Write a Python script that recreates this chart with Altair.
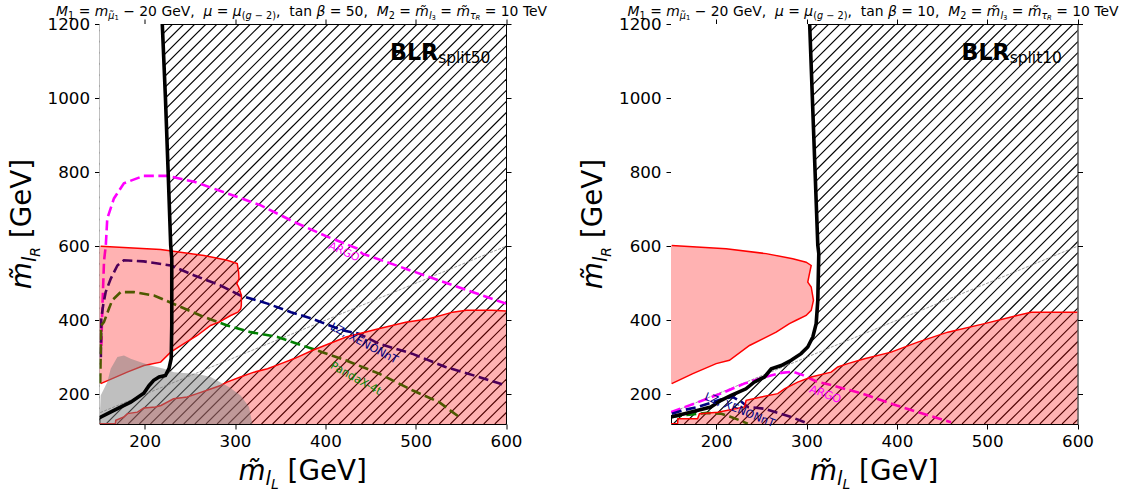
import altair as alt
import pandas as pd

FONT = "DejaVu Sans"
X_DOMAIN = [150, 600]
Y_DOMAIN = [120, 1200]
W, H = 406.5, 400.0
X_TICKS = [200, 300, 400, 500, 600]
Y_TICKS = [200, 400, 600, 800, 1000, 1200]

# ------------------------------------------------------------------ left panel (tan beta = 50)
L_black_x = [150, 166, 184.5, 199, 205, 210, 216, 223, 227, 229.4, 230, 230, 228.8, 226, 223, 219.5]
L_black_y = [137, 157, 179, 203, 224, 238, 247, 251, 270, 297, 386, 567, 603, 800, 1000, 1200]

L_pink1_x = [151.3, 180.7, 199.2, 217.7, 228.8, 243.5, 258.2, 273, 282.3, 295.2, 303.3, 306.3, 307, 307.1,
             304, 302, 304.4, 304, 302.5, 291.4, 265.6, 217.7, 151.3]
L_pink1_y = [229, 260, 278, 287, 314, 337, 359, 386, 395, 413, 422, 431, 440, 467,
             490, 499, 512, 530, 553, 562, 575, 591, 600]

L_pink2_x = [150, 167.6, 168, 177, 181, 192, 199, 212, 218, 232, 247, 258, 269, 284, 291, 306, 321,
             336, 351, 365, 386, 423, 459, 489, 515, 541, 556, 585, 600]
L_pink2_y = [121, 121, 130, 139, 148, 152, 163, 166, 170, 188, 193, 202, 211, 224, 233, 247, 260,
             269, 283, 296, 319, 355, 377, 395, 404, 422, 427, 427, 425]

L_grey_x = [150, 151.3, 158.6, 162.4, 169.8, 177.1, 184.5, 195.6, 206.6, 221.4, 232.4, 254.6, 260,
            273, 293.3, 306.3, 315.5, 319.2]
L_grey_y = [120, 197, 233, 269, 301, 305, 296, 287, 278, 269, 260, 256, 254,
            247, 220, 197, 166, 120]

L_argo_x = [152, 153, 155, 157, 158.6, 166, 177, 199, 225, 255, 291, 328, 365, 402, 435, 441, 515, 600]
L_argo_y = [330, 420, 560, 603, 675, 729, 770, 790, 790, 774, 743, 711, 666, 626, 594, 580, 517, 445]

L_xen_x = [151.5, 152, 154, 156.8, 162.4, 169.8, 177, 199, 229, 255, 284, 306, 336, 362, 385.5, 419,
           437, 459, 496, 533, 570, 600]
L_xen_y = [300, 404, 440, 476, 512, 548, 562, 559, 548, 521, 494, 467, 445, 422, 404, 373,
           364, 337, 310, 274, 247, 224]

L_pandax_x = [150.8, 151.8, 154.9, 160.4, 164.1, 173.4, 188.2, 210.3, 236.1, 265.6, 291.4, 317.3, 347,
              385.5, 422.5, 459.4, 496.3, 526, 548]
L_pandax_y = [230, 386, 395, 431, 454, 476, 476, 467, 440, 409, 386, 368, 355,
              323, 292, 256, 211, 179, 139]

L_label_text = ["ARGO", "LZ, XENONnT", "PandaX-4t"]
L_label_x = [420.5, 442.7, 433.5]
L_label_y = [584, 336.7, 242]
L_label_angle = [24, 28, 29]
L_label_color = ["magenta", "navy", "green"]

# ------------------------------------------------------------------ right panel (tan beta = 10)
R_black_x = [150, 165, 180, 194, 205.5, 216.6, 233, 242, 253.5, 261, 272, 283, 294, 301.4, 307, 310.7,
             312.5, 313.6, 312.5, 308, 303.5]
R_black_y = [139, 148, 157, 166, 184, 197, 215, 233, 247, 269, 278, 292, 310, 328, 355, 391,
             454, 580, 603, 900, 1200]

R_pink1_x = [150.8, 174.2, 200, 214.7, 236.9, 251.6, 266.4, 281.1, 288.6, 299.6, 305.2, 307.7, 305.2,
             301.4, 303.3, 305.2, 299.6, 284.8, 255.3, 211, 150.8]
R_pink1_y = [229, 256, 283, 292, 332, 350, 368, 391, 400, 413, 427, 454, 490,
             503, 526, 548, 557, 566, 580, 593, 602]

R_pink2_x = [150, 157.3, 157.6, 179.4, 181.5, 201.8, 231.3, 233.2, 249.8, 268.2, 275.6, 290.3, 305.2,
             327.3, 334.6, 345.7, 364.2, 393.7, 423.2, 456.4, 497.1, 526.6, 548.7, 600]
R_pink2_y = [121, 121, 134, 134, 148, 152, 166, 184, 193, 202, 215, 233, 247,
             260, 274, 283, 296, 314, 341, 368, 391, 409, 422, 422]

R_argo_x = [150, 180, 209, 231, 254, 272, 285, 296, 311, 329, 362, 400, 435, 460]
R_argo_y = [152, 179, 206, 229, 247, 258, 261, 252, 235, 224, 202, 170, 143, 125]

R_xen_x = [151, 165, 180, 195, 205, 211, 218, 222, 228, 235, 254, 283, 302]
R_xen_y = [148, 158, 166, 178, 186, 189, 193, 188, 180, 166, 161, 139, 121]

R_pandax_x = [151, 170, 190, 205, 215, 225, 235]
R_pandax_y = [140, 145, 150, 148, 140, 131, 121]

R_label_text = ["ARGO", "LZ, XENONnT"]
R_label_x = [320.7, 225.8]
R_label_y = [199, 156.5]
R_label_angle = [20, 22]
R_label_color = ["magenta", "navy"]

DIAG = [120, 600]  # m_lL = m_lR reference line

# ------------------------------------------------------------------ styling constants
HATCH_PX = 11.11        # horizontal spacing of hatch lines in pixels
HATCH_PHASE = [0.0, 4.3]  # px offset from the top-right corner

XS = alt.Scale(domain=X_DOMAIN, nice=False, zero=False)
YS = alt.Scale(domain=Y_DOMAIN, nice=False, zero=False)
PX = alt.Scale(domain=[0, W], nice=False, zero=False)
PY = alt.Scale(domain=[0, H], nice=False, zero=False, reverse=True)

WID = {' ': 0.318, '=': 0.838, '\u2212': 0.838, ',': 0.318, '(': 0.390, ')': 0.390, '[': 0.390, ']': 0.390,
       '-': 0.361, 'G': 0.775, 'e': 0.615, 'V': 0.684, 'T': 0.611, 'a': 0.613, 'n': 0.634, 't': 0.392,
       'M': 0.863, 'm': 0.974, 'g': 0.635, 'l': 0.278, 'R': 0.695, 'L': 0.557, 'B': 0.686, 's': 0.521,
       'p': 0.635, 'i': 0.278, '\u03bc': 0.636, '\u03b2': 0.636, '\u03c4': 0.578, '\u0303': 0.0}
for _d in '0123456789':
    WID[_d] = 0.636
WID_BOLD = {'B': 0.762, 'L': 0.637, 'R': 0.770}


def tw(s, size, bold=False):
    tot = 0.0
    for ch in s:
        if bold and ch in WID_BOLD:
            tot += WID_BOLD[ch]
        else:
            tot += WID.get(ch, 0.62)
    return tot * size


def layout_runs(runs, x0, y0, align='center', vertical=False):
    total = sum(tw(t, sz, wt == 'bold') for t, sz, sh, st, wt in runs)
    cur = -total / 2 if align == 'center' else 0.0
    rows = []
    for t, sz, sh, st, wt in runs:
        tok, tok_pos = '', cur
        for ch in t:
            if ch == ' ':
                if tok:
                    rows.append((tok, tok_pos, sz, sh, st, wt))
                    tok = ''
                cur += WID[' '] * sz
            else:
                if not tok:
                    tok_pos = cur
                tok += ch
                cur += tw(ch, sz, wt == 'bold')
        if tok:
            rows.append((tok, tok_pos, sz, sh, st, wt))
    out = []
    for tok, pos, sz, sh, st, wt in rows:
        if vertical:
            px, py = x0 + sh, y0 - pos
        else:
            px, py = x0 + pos, y0 + sh
        out.append(dict(t=tok, px=px, py=py, sz=sz, st=st, wt=wt, ang=270 if vertical else 0))
    return out


def title_runs(tb):
    F, S, SS, DS, DSS = 13.9, 9.73, 6.8, 3.0, 4.8
    n, it = 'normal', 'italic'
    return [("M", F, 0, it, n), ("1", S, DS, n, n), (" = ", F, 0, n, n), ("m", F, 0, it, n),
            ("\u03bc\u0303", S, DS, it, n), ("1", SS, DSS, n, n), (" \u2212 20 GeV,  ", F, 0, n, n),
            ("\u03bc", F, 0, it, n), (" = ", F, 0, n, n), ("\u03bc", F, 0, it, n),
            ("(", S, DS, n, n), ("g", S, DS, it, n), (" \u2212 2)", S, DS, n, n),
            (",  tan ", F, 0, n, n), ("\u03b2", F, 0, it, n), (" = %d,  " % tb, F, 0, n, n),
            ("M", F, 0, it, n), ("2", S, DS, n, n), (" = ", F, 0, n, n), ("m\u0303", F, 0, it, n),
            ("l", S, DS, it, n), ("3", SS, DSS, n, n), (" = ", F, 0, n, n), ("m\u0303", F, 0, it, n),
            ("\u03c4", S, DS, it, n), ("R", SS, DSS, it, n), (" = 10 TeV", F, 0, n, n)]


def axis_title_runs(sub):
    n, it = 'normal', 'italic'
    return [("m\u0303", 27.8, 0, it, n), ("l", 19.5, 5, it, n), (sub, 13.9, 9, it, n),
            (" [GeV]", 27.8, 0, n, n)]


def X(f, axis=None):
    return alt.X(f, type='quantitative', scale=XS, axis=axis)


def Y(f, axis=None):
    return alt.Y(f, type='quantitative', scale=YS, axis=axis)


def dashed(xs, ys, color, width=2.6, dash=(10, 4.5)):
    df = pd.DataFrame({'x': xs, 'y': ys, 'i': range(len(xs))})
    return alt.Chart(df).mark_line(color=color, strokeWidth=width, strokeDash=list(dash), clip=True).encode(
        x=X('x'), y=Y('y'), order=alt.Order('i:Q'))


def panel(P, tb, phase):
    layers = []
    # hatch texture (45 degrees in pixel space)
    px_x = W / (X_DOMAIN[1] - X_DOMAIN[0])
    px_y = H / (Y_DOMAIN[1] - Y_DOMAIN[0])
    step = HATCH_PX / px_x
    span = (Y_DOMAIN[1] - Y_DOMAIN[0]) * px_y / px_x
    tops = []
    k = -100
    while k < 100:
        xt = X_DOMAIN[1] - phase / px_x + k * step
        if X_DOMAIN[0] - step < xt < X_DOMAIN[1] + span + step:
            tops.append(xt)
        k += 1
    hatch = pd.DataFrame({'x': [t - span for t in tops], 'x2': tops,
                          'y': Y_DOMAIN[0], 'y2': Y_DOMAIN[1]})
    layers.append(alt.Chart(hatch).mark_rule(color='black', strokeWidth=1.1, clip=True).encode(
        x=X('x'), x2='x2:Q', y=Y('y'), y2='y2:Q'))
    # white mask: region above/left of the black boundary is not hatched
    mask = pd.DataFrame({'x': P['black_x'], 'y': P['black_y'], 'x0': 140.0})
    layers.append(alt.Chart(mask).mark_area(orient='horizontal', color='white', opacity=1, clip=True).encode(
        y=Y('y'), x=X('x'), x2='x0:Q'))
    # reference diagonal (carries the top/right tick-only axes)
    diag = pd.DataFrame({'x': DIAG, 'y': DIAG})
    layers.append(alt.Chart(diag).mark_line(color='gray', strokeWidth=0.8, strokeDash=[3, 1.3], clip=True).encode(
        x=X('x', alt.Axis(orient='top', values=X_TICKS, labels=False, title=None, grid=False, tickSize=5,
                          tickColor='black', domainColor='black', tickWidth=1, domainWidth=1)),
        y=Y('y', alt.Axis(orient='right', values=Y_TICKS, labels=False, title=None, grid=False, tickSize=5,
                          tickColor='black', domainColor='black', tickWidth=1, domainWidth=1))))
    # dashed experimental limits
    layers.append(dashed(P['argo_x'], P['argo_y'], 'magenta'))
    layers.append(dashed(P['xen_x'], P['xen_y'], 'navy'))
    layers.append(dashed(P['pandax_x'], P['pandax_y'], 'green'))
    # pink regions
    p1 = pd.DataFrame({'x': P['pink1_x'], 'y': P['pink1_y'], 'x0': 140.0, 'i': range(len(P['pink1_x']))})
    layers.append(alt.Chart(p1).mark_area(orient='horizontal', color='red', opacity=0.3, clip=True).encode(
        y=Y('y'), x=X('x'), x2='x0:Q'))
    layers.append(alt.Chart(p1).mark_line(color='red', strokeWidth=1.5, clip=True).encode(
        x=X('x'), y=Y('y'), order=alt.Order('i:Q')))
    p2 = pd.DataFrame({'x': P['pink2_x'], 'y': P['pink2_y'], 'y0': 100.0, 'i': range(len(P['pink2_x']))})
    layers.append(alt.Chart(p2).mark_area(color='red', opacity=0.3, clip=True).encode(
        x=X('x'), y=Y('y'), y2='y0:Q'))
    layers.append(alt.Chart(p2).mark_line(color='red', strokeWidth=1.5, clip=True).encode(
        x=X('x'), y=Y('y'), order=alt.Order('i:Q')))
    # grey blob
    if P.get('grey_x'):
        g = pd.DataFrame({'x': P['grey_x'], 'y': P['grey_y'], 'y0': 100.0})
        layers.append(alt.Chart(g).mark_area(color='gray', opacity=0.5, clip=True).encode(
            x=X('x'), y=Y('y'), y2='y0:Q'))
    # black boundary (carries bottom/left axes)
    b = pd.DataFrame({'x': P['black_x'], 'y': P['black_y'], 'i': range(len(P['black_x']))})
    ax_b = alt.Axis(orient='bottom', values=X_TICKS, format='d', title=None, grid=False, tickSize=5,
                    tickWidth=1, domainWidth=1, tickColor='black', domainColor='black', labelColor='black',
                    labelFont=FONT, labelFontSize=16.7, labelPadding=4, labelFlush=False)
    ax_l = alt.Axis(orient='left', values=Y_TICKS, format='d', title=None, grid=False, tickSize=5,
                    tickWidth=1, domainWidth=1, tickColor='black', domainColor='black', labelColor='black',
                    labelFont=FONT, labelFontSize=16.7, labelPadding=5, labelFlush=False)
    layers.append(alt.Chart(b).mark_line(color='black', strokeWidth=3.6, clip=True).encode(
        x=X('x', ax_b), y=Y('y', ax_l), order=alt.Order('i:Q')))
    # contour labels
    for t, lx, ly, ang, col in zip(P['lab_t'], P['lab_x'], P['lab_y'], P['lab_a'], P['lab_c']):
        d = pd.DataFrame({'x': [lx], 'y': [ly], 't': [t]})
        layers.append(alt.Chart(d).mark_text(font=FONT, fontSize=11.1, color=col, angle=ang,
                                             align='center', baseline='middle').encode(
            x=X('x'), y=Y('y'), text='t:N'))
    data_layer = alt.layer(*layers).resolve_axis(x='independent', y='independent')

    # text in pixel coordinates
    rows = []
    rows += layout_runs(title_runs(tb), W / 2, -8.5, 'center')
    rows += layout_runs([("BLR", 22.2, 0, 'normal', 'bold'), ("split%d" % tb, 15.5, 2.6, 'normal', 'normal')],
                        290.5, 36.2, 'left')
    rows += layout_runs(axis_title_runs('L'), W / 2, 455.5, 'center')
    rows += layout_runs(axis_title_runs('R'), -69, H / 2, 'center', vertical=True)
    tdf = pd.DataFrame(rows)
    tl = []
    for (st, wt, ang), grp in tdf.groupby(['st', 'wt', 'ang']):
        tl.append(alt.Chart(grp.reset_index(drop=True)).mark_text(
            font=FONT, fontStyle=st, fontWeight=wt, angle=int(ang), align='left', baseline='alphabetic',
            color='black').encode(
            x=alt.X('px:Q', scale=PX, axis=None), y=alt.Y('py:Q', scale=PY, axis=None),
            text='t:N', size=alt.Size('sz:Q', scale=None, legend=None)))
    text_layer = alt.layer(*tl)
    return alt.layer(data_layer, text_layer).resolve_scale(x='independent', y='independent').properties(
        width=W, height=H)


LEFT = dict(black_x=L_black_x, black_y=L_black_y, pink1_x=L_pink1_x, pink1_y=L_pink1_y,
            pink2_x=L_pink2_x, pink2_y=L_pink2_y, grey_x=L_grey_x, grey_y=L_grey_y,
            argo_x=L_argo_x, argo_y=L_argo_y, xen_x=L_xen_x, xen_y=L_xen_y,
            pandax_x=L_pandax_x, pandax_y=L_pandax_y, lab_t=L_label_text, lab_x=L_label_x,
            lab_y=L_label_y, lab_a=L_label_angle, lab_c=L_label_color)
RIGHT = dict(black_x=R_black_x, black_y=R_black_y, pink1_x=R_pink1_x, pink1_y=R_pink1_y,
             pink2_x=R_pink2_x, pink2_y=R_pink2_y, grey_x=None, grey_y=None,
             argo_x=R_argo_x, argo_y=R_argo_y, xen_x=R_xen_x, xen_y=R_xen_y,
             pandax_x=R_pandax_x, pandax_y=R_pandax_y, lab_t=R_label_text, lab_x=R_label_x,
             lab_y=R_label_y, lab_a=R_label_angle, lab_c=R_label_color)

chart = alt.hconcat(panel(LEFT, 50, HATCH_PHASE[0]), panel(RIGHT, 10, HATCH_PHASE[1]),
                    spacing=32.5).properties(
    padding={"left": 8.5, "top": 4, "right": 0, "bottom": 0}, background='white'
).configure_view(stroke=None)

chart.save("out.html", embed_options={"renderer": "svg", "actions": False})
